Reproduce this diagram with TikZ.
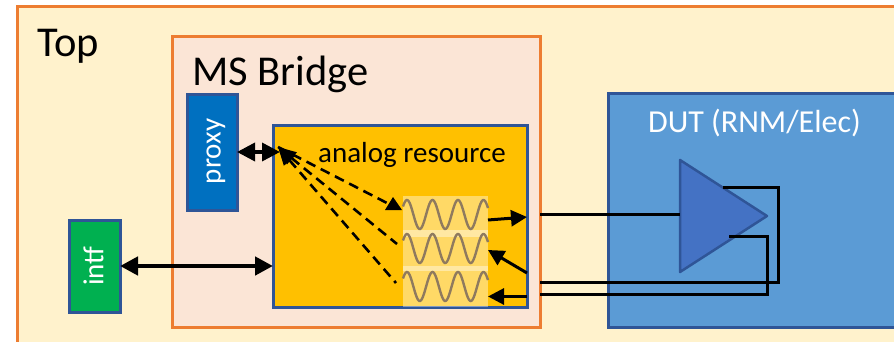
\documentclass[tikz,border=0pt]{standalone}
\usepackage{xcolor}
\usepackage{fontspec}
\setmainfont{Carlito}
\usetikzlibrary{arrows.meta,positioning,calc}

\definecolor{topfill}{HTML}{FFF2CC}
\definecolor{bridgefill}{HTML}{FBE5D6}
\definecolor{edgeorange}{HTML}{ED7D31}
\definecolor{edgeblue}{HTML}{2F5597}
\definecolor{dutfill}{HTML}{5B9BD5}
\definecolor{ampfill}{HTML}{4472C4}
\definecolor{wavecol}{HTML}{8F7A5E}

\begin{document}
\begin{tikzpicture}[
    x=1pt, y=-1pt,
    block/.style={draw, line width=3pt, inner sep=0pt, outer sep=0pt, anchor=north west},
    label/.style={inner sep=0pt, anchor=base west},
    panel/.style={fill=white, fill opacity=.4, inner sep=0pt, outer sep=0pt, minimum width=85pt, minimum height=41pt, anchor=north west},
    wire/.style={line width=3pt},
    arr/.style={line width=3pt, -{Triangle[length=16pt,width=16pt]}},
    dasharr/.style={line width=2.6pt, dash pattern=on 10pt off 6pt},
    link/.style={line width=4.5pt, {Triangle[length=18pt,width=18pt]}-{Triangle[length=18pt,width=18pt]}}
  ]
    \useasboundingbox (0,0) rectangle (894,342);
    \clip (0,0) rectangle (894,342);

    \node[block, draw=edgeorange, fill=topfill, minimum width=920pt, minimum height=380pt] (top) at (17,7) {};
    \node[block, draw=edgeorange, fill=bridgefill, minimum width=368pt, minimum height=290pt] (bridge) at (172,37) {};
    \node[block, draw=edgeblue, fill=dutfill, minimum width=340pt, minimum height=233pt] (dut) at (608,94) {};
    \node[block, draw=edgeblue, fill={rgb,255:red,0;green,112;blue,192}, minimum width=50pt, minimum height=115pt] (proxy) at (187,95) {};
    \node[block, draw=edgeblue, fill={rgb,255:red,255;green,192;blue,0}, minimum width=254pt, minimum height=181pt] (res) at (273,126) {};
    \node[block, draw=edgeblue, fill={rgb,255:red,0;green,176;blue,80}, minimum width=51pt, minimum height=92pt] (intf) at (69,220) {};

    \node[label, font=\fontsize{42.5}{42}\selectfont] (toptxt) at (37,57) {Top};
    \node[label, font=\fontsize{42.5}{42}\selectfont] (bridgetxt) at (192,86) {MS Bridge};
    \node[label, font=\fontsize{29}{29}\selectfont] (restxt) at (318,162) {analog resource};
    \node[label, font=\fontsize{32}{32}\selectfont, white] (duttxt) at (648,133) {DUT (RNM/Elec)};
    \node[font=\fontsize{29}{29}\selectfont, white, rotate=90, inner sep=0pt] (proxytxt) at ($(proxy.center)+(4,-1)$) {proxy};
    \node[font=\fontsize{29}{29}\selectfont, white, rotate=90, inner sep=0pt] (intftxt) at ($(intf.center)+(-1,0)$) {intf};

    % signal panels
    \node[panel] (waveA) at (403,196) {};
    \node[panel] (waveB) at (403,230) {};
    \node[panel] (waveC) at (403,266) {};
    \foreach \c in {214.5,248.5,286.5}
      \draw[wavecol, line width=2.4pt] plot[domain=403:488, samples=90, smooth] (\x,{\c-14.5*cos(14.12*(\x-407))});

    % amplifier
    \coordinate (ampA) at (680,160);
    \coordinate (ampB) at (767,216);
    \coordinate (ampC) at (680,272);
    \draw[draw=edgeblue, fill=ampfill, line width=2.5pt, line join=round] (ampA) -- (ampB) -- (ampC) -- cycle;

    % links
    \draw[link, line width=3.5pt] (proxy.east |- 0,152) -- (280,152);
    \draw[link] (intf.east |- 0,266) -- (res.west |- 0,266);

    % dashed paths
    \coordinate (hub) at (278,147);
    \draw[dasharr] (hub) -- (387,203);
    \fill (385,210) -- (393,197) -- (402,210) -- cycle;
    \draw[dasharr, {Triangle[length=18pt,width=15pt]}-] (hub) -- (397,244);
    \draw[dasharr, {Triangle[length=18pt,width=15pt]}-] (hub) -- (396,283);

    % wave arrows
    \draw[arr] (waveA.east |- 0,220) -- (res.east |- 0,217);
    \draw[arr] (res.east |- 0,273) -- (waveB.east |- 0,250);
    \draw[arr] (res.east |- 0,296.5) -- (waveC.east |- 0,296.5);

    % wires to the amplifier
    \coordinate (fbA) at (723,187);
    \coordinate (fbB) at (729,236);
    \draw[wire] (bridge.east |- 0,214) -- (ampA |- 0,214);
    \draw[wire] (bridge.east |- 0,282) -| (778,187) -- (fbA);
    \draw[wire] (bridge.east |- 0,294) -| (767,236) -- (fbB);
  \end{tikzpicture}
\end{document}
